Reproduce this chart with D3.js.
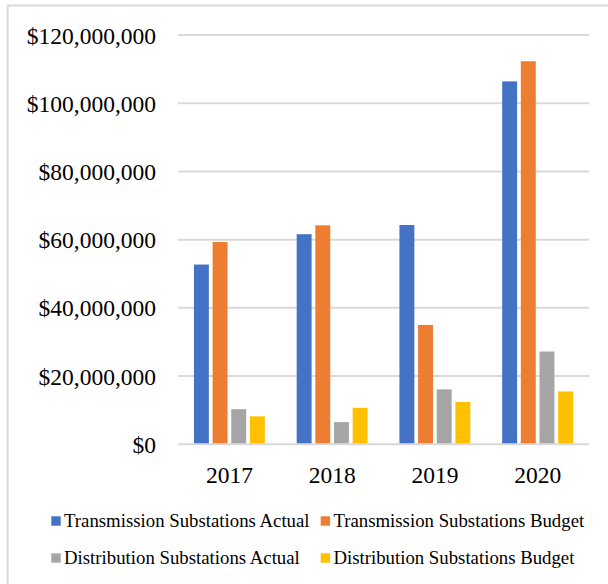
<!DOCTYPE html>
<html>
<head>
<meta charset="utf-8">
<script src="https://cdn.jsdelivr.net/npm/d3@7"></script>
<style>
  html, body { margin: 0; padding: 0; background: #fff; }
  svg { display: block; }
  text { font-family: "Liberation Serif", "Times New Roman", serif; fill: #000; }
</style>
</head>
<body>
<svg id="chart" width="608" height="584"></svg>
<script>
// Substation spending by year
const years = ["2017", "2018", "2019", "2020"];
const seriesNames = [
  "Transmission Substations Actual",
  "Transmission Substations Budget",
  "Distribution Substations Actual",
  "Distribution Substations Budget"
];
const seriesColors = ["#4472C4", "#ED7D31", "#A5A5A5", "#FFC000"];
const transmissionActual = [52700000, 61600000, 64300000, 106400000];
const transmissionBudget = [59300000, 64200000, 35000000, 112300000];
const distributionActual = [10300000, 6500000, 16100000, 27200000];
const distributionBudget = [8200000, 10700000, 12400000, 15500000];
const yTicks = [0, 20000000, 40000000, 60000000, 80000000, 100000000, 120000000];

const seriesValues = [transmissionActual, transmissionBudget, distributionActual, distributionBudget];

const svg = d3.select("#chart");

// outer chart frame (extends past the right and bottom edges)
svg.append("rect")
  .attr("x", 7.7).attr("y", 5.5)
  .attr("width", 700).attr("height", 700)
  .attr("fill", "none")
  .attr("stroke", "#d9d9d9")
  .attr("stroke-width", 2);

const plot = { left: 178, right: 589, top: 35, bottom: 444.3 };

const x0 = d3.scaleBand().domain(years).range([plot.left, plot.right]);
const bw = x0.bandwidth();
const x1 = d3.scaleBand().domain(seriesNames)
  .range([bw * 0.155, bw * 0.845])
  .paddingInner(0.2);

const y = d3.scaleLinear().domain([0, 120000000]).range([plot.bottom, plot.top]);

// gridlines
svg.append("g")
  .selectAll("line")
  .data(yTicks)
  .join("line")
  .attr("x1", plot.left).attr("x2", plot.right)
  .attr("y1", d => y(d)).attr("y2", d => y(d))
  .attr("stroke", "#d9d9d9")
  .attr("stroke-width", 2);

// y axis labels
const fmt = d3.format("$,");
const yAxis = d3.axisLeft(y).tickValues(yTicks).tickFormat(fmt).tickSize(0).tickPadding(22);
const gy = svg.append("g").attr("transform", `translate(${plot.left},0)`).call(yAxis);
gy.select(".domain").remove();
gy.selectAll("text")
  .attr("font-family", "Liberation Serif, Times New Roman, serif")
  .attr("font-size", 23.5)
  .attr("fill", "#000")
  .attr("dy", "0.34em");

// bars
const groups = svg.append("g")
  .selectAll("g")
  .data(years)
  .join("g")
  .attr("transform", d => `translate(${x0(d)},0)`);

groups.selectAll("rect")
  .data((d, i) => seriesNames.map((s, k) => ({ s, k, v: seriesValues[k][i] })))
  .join("rect")
  .attr("x", d => x1(d.s))
  .attr("width", x1.bandwidth())
  .attr("y", d => y(d.v))
  .attr("height", d => y(0) - y(d.v) - 1)
  .attr("fill", d => seriesColors[d.k]);

// x axis labels
const xAxis = d3.axisBottom(x0).tickSize(0).tickPadding(22);
const gx = svg.append("g").attr("transform", `translate(0,${plot.bottom})`).call(xAxis);
gx.select(".domain").remove();
gx.selectAll("text")
  .attr("font-family", "Liberation Serif, Times New Roman, serif")
  .attr("font-size", 23.5)
  .attr("fill", "#000")
  .attr("dy", "0.71em");

// legend
const legendPos = [
  { x: 51.3, y: 521 },
  { x: 320.7, y: 521 },
  { x: 51.3, y: 558 },
  { x: 320.7, y: 558 }
];
const legend = svg.append("g")
  .selectAll("g")
  .data(seriesNames)
  .join("g")
  .attr("transform", (d, i) => `translate(${legendPos[i].x},${legendPos[i].y})`);
legend.append("rect")
  .attr("x", 0).attr("y", -4.7)
  .attr("width", 9.4).attr("height", 9.4)
  .attr("fill", (d, i) => seriesColors[i]);
legend.append("text")
  .attr("x", 12.7)
  .attr("y", 0)
  .attr("dy", "0.34em")
  .attr("font-size", 18.8)
  .text(d => d);
</script>
</body>
</html>
